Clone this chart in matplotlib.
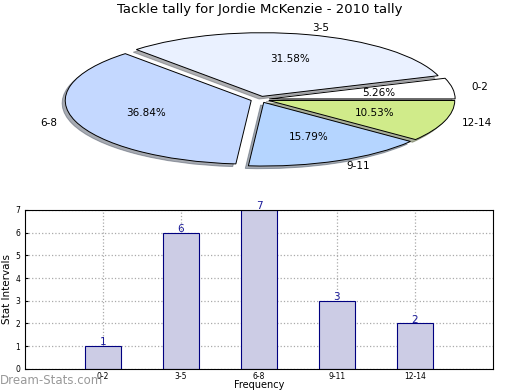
import matplotlib.pyplot as plt

categories = ['0-2', '3-5', '6-8', '9-11', '12-14']
counts = [1, 6, 7, 3, 2]
pie_colors = ['#FFFFFF', '#EAF1FF', '#C4D8FF', '#B5D5FF', '#D0EB8A']
explode = [0.05, 0.05, 0.05, 0.05, 0.05]


def draw_pie(ax):
    wedges, texts, autotexts = ax.pie(counts, labels=categories, colors=pie_colors, explode=explode,
                                      autopct='%.2f%%',
                                      shadow={'ox': -0.012, 'oy': -0.03, 'shade': 0.6},
                                      wedgeprops={'edgecolor': 'black', 'linewidth': 0.7},
                                      textprops={'fontsize': 7.5})
    ax.set_aspect('auto')
    ax.set_xlim(-1.25, 1.25)
    ax.set_ylim(-1.25, 1.25)


def draw_bars(ax):
    xs = range(len(categories))
    bars = ax.bar(xs, counts, width=0.46, color='#CCCCE5', edgecolor='#000080', linewidth=0.8, zorder=2)
    for b, v in zip(bars, counts):
        ax.text(b.get_x() + b.get_width() / 2, v - 0.05, str(v), ha='center', va='bottom',
                color='#1a1a99', fontsize=7.5, zorder=3)
    ax.set_xlim(-1, 5)
    ax.set_ylim(0, 7)
    ax.set_xticks(list(xs))
    ax.set_xticklabels(categories, fontsize=5.5)
    ax.set_yticks(range(8))
    ax.tick_params(axis='y', labelsize=5.5, length=2, direction='in')
    ax.tick_params(axis='x', length=0, pad=2)
    ax.grid(True, linestyle=':', color='#aaaaaa', linewidth=0.9, zorder=0)
    ax.set_axisbelow(True)
    ax.set_ylabel('Stat Intervals', fontsize=7.5, labelpad=2)
    ax.set_xlabel('Frequency', fontsize=7)
    ax.xaxis.set_label_coords(0.5, -0.072)


fig = plt.figure(figsize=(5.2, 3.9), dpi=100)
ax_pie = fig.add_axes([0.053, 0.541, 0.894, 0.408])
draw_pie(ax_pie)
fig.text(0.5, 1 - 10 / 390, 'Tackle tally for Jordie McKenzie - 2010 tally', ha='center', va='center', fontsize=9.5)

ax_bar = fig.add_axes([0.048, 0.054, 0.9, 0.408])
draw_bars(ax_bar)

fig.text(0.0, 1 - 380 / 390, 'Dream-Stats.com', ha='left', va='center', fontsize=8.5, color='#999999')

fig.savefig('out.png', dpi=100)
